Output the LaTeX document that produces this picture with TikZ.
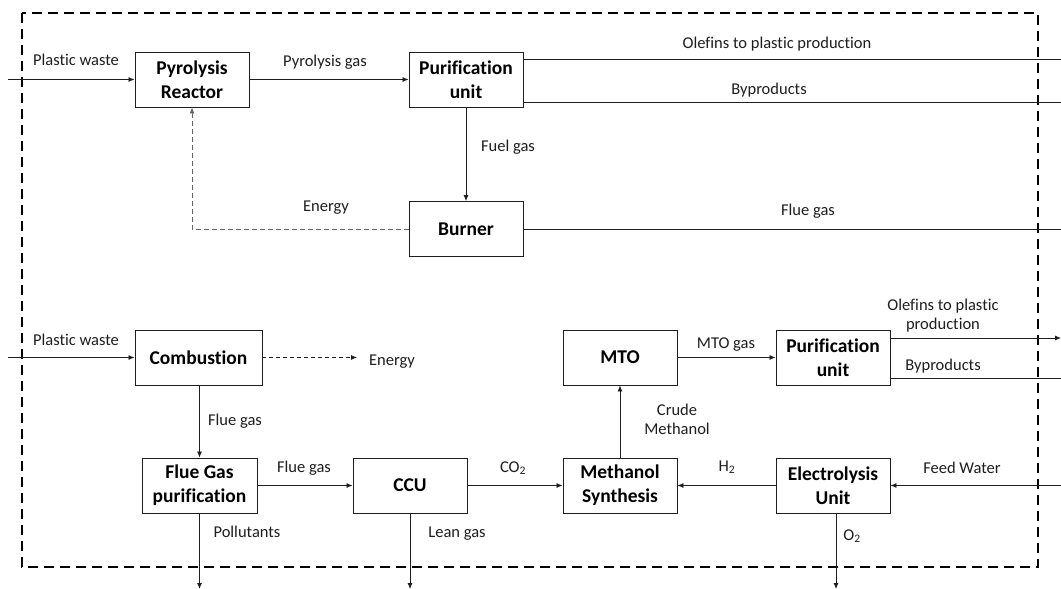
\documentclass[tikz,border=0pt]{standalone}
\usepackage{fontspec}
\setmainfont{Carlito}[RawFeature={-liga;-clig;-calt}]
\usetikzlibrary{arrows.meta}
\definecolor{ink}{HTML}{1E1E1E}
\tikzset{
  box/.style={draw=ink, line width=0.9pt, minimum width=114pt, minimum height=55pt, inner sep=0pt, align=center, font=\fontsize{19.5}{24}\selectfont\bfseries, text=black},
  lbl/.style={inner sep=0pt, align=center, font=\fontsize{16.5}{19}\selectfont, text=ink},
  flow/.style={draw=ink, line width=0.8pt, -{Latex[length=6pt,width=5pt]}},
  plain/.style={draw=ink, line width=0.8pt},
  energy/.style={draw=gray!80!black, line width=0.9pt, dash pattern=on 5pt off 3pt, -{Latex[length=6pt,width=5pt]}},
  energy2/.style={draw=ink, line width=0.8pt, dash pattern=on 4pt off 3pt, -{Latex[length=6pt,width=5pt]}},
  boundary/.style={draw=black, line width=2.6pt, dash pattern=on 10pt off 6pt}
}
\begin{document}
\begin{tikzpicture}[x=1pt,y=-1pt]
\useasboundingbox (0,0) rectangle (1061,589);
\fill[white] (0,0) rectangle (1061,589);
% boundary
\draw[boundary] (22,13) rectangle (1038,567);
% boxes
\node[box] (pr) at (192,79.5) {Pyrolysis\\Reactor};
\node[box] (pu1) at (466,79.5) {Purification\\unit};
\node[box] (bu) at (466,229) {Burner};
\node[box, minimum width=127pt] (co) at (198.5,357.5) {Combustion};
\node[box, minimum width=115pt] (fg) at (199.5,485.5) {Flue Gas\\purification};
\node[box] (ccu) at (410,485.5) {CCU};
\node[box] (ms) at (620,485.5) {Methanol\\Synthesis};
\node[box] (mto) at (620,357.5) {MTO};
\node[box] (pu2) at (833,357.5) {Purification\\unit};
\node[box] (el) at (833,485.5) {Electrolysis\\Unit};
% free ends
\coordinate (in1) at (8,79.5);
\coordinate (in2) at (8,357.5);
\coordinate (ol1) at (1061,59);
\coordinate (by1) at (1061,102);
\coordinate (fl1) at (1061,229);
\coordinate (en2) at (357,357.5);
\coordinate (ol2) at (1061,338);
\coordinate (by2) at (1061,378);
\coordinate (fw) at (1061,485.5);
\coordinate (po) at (199.5,589);
\coordinate (lg) at (410,589);
\coordinate (ox) at (836,589);
\coordinate (ecorner) at (192,229);
% connectors top
\draw[flow] (in1) -- (pr);
\draw[flow] (pr) -- (pu1);
\draw[plain] (pu1.east|-ol1) -- (ol1);
\draw[plain] (pu1.east|-by1) -- (by1);
\draw[flow] (pu1) -- (bu);
\draw[energy] (bu.west) -- (ecorner) -- (pr.south);
\draw[plain] (bu) -- (fl1);
% connectors bottom
\draw[flow] (in2) -- (co);
\draw[energy2] (co) -- (en2);
\draw[flow] (co.south-|fg.north) -- (fg.north);
\draw[flow] (fg) -- (ccu);
\draw[flow] (ccu) -- (ms);
\draw[flow] (el) -- (ms);
\draw[flow] (ms) -- (mto);
\draw[flow] (mto) -- (pu2);
\draw[flow] (pu2.east|-ol2) -- (ol2);
\draw[plain] (pu2.east|-by2) -- (by2);
\draw[flow] (fw) -- (el);
\draw[flow] (fg) -- (po);
\draw[flow] (ccu) -- (lg);
\draw[flow] (el.south-|ox) -- (ox);
% labels
\node[lbl] at (76,60) {Plastic waste};
\node[lbl] at (325,62) {Pyrolysis gas};
\node[lbl] at (777,44) {Olefins to plastic production};
\node[lbl] at (769,90) {Byproducts};
\node[lbl] at (508,147) {Fuel gas};
\node[lbl] at (326,208) {Energy};
\node[lbl] at (808,211) {Flue gas};
\node[lbl] at (76,340) {Plastic waste};
\node[lbl] at (392,362) {Energy};
\node[lbl] at (235,421) {Flue gas};
\node[lbl] at (304,468) {Flue gas};
\node[lbl] at (513,468) {CO\textsubscript{2}};
\node[lbl] at (727,467) {H\textsubscript{2}};
\node[lbl] at (247,532) {Pollutants};
\node[lbl] at (457,534) {Lean gas};
\node[lbl] at (852,536) {O\textsubscript{2}};
\node[lbl] at (962,468) {Feed Water};
\node[lbl] at (943,316) {Olefins to plastic\\production};
\node[lbl] at (943,366) {Byproducts};
\node[lbl] at (726,345) {MTO gas};
\node[lbl] at (677,419) {Crude\\Methanol};
\end{tikzpicture}
\end{document}
